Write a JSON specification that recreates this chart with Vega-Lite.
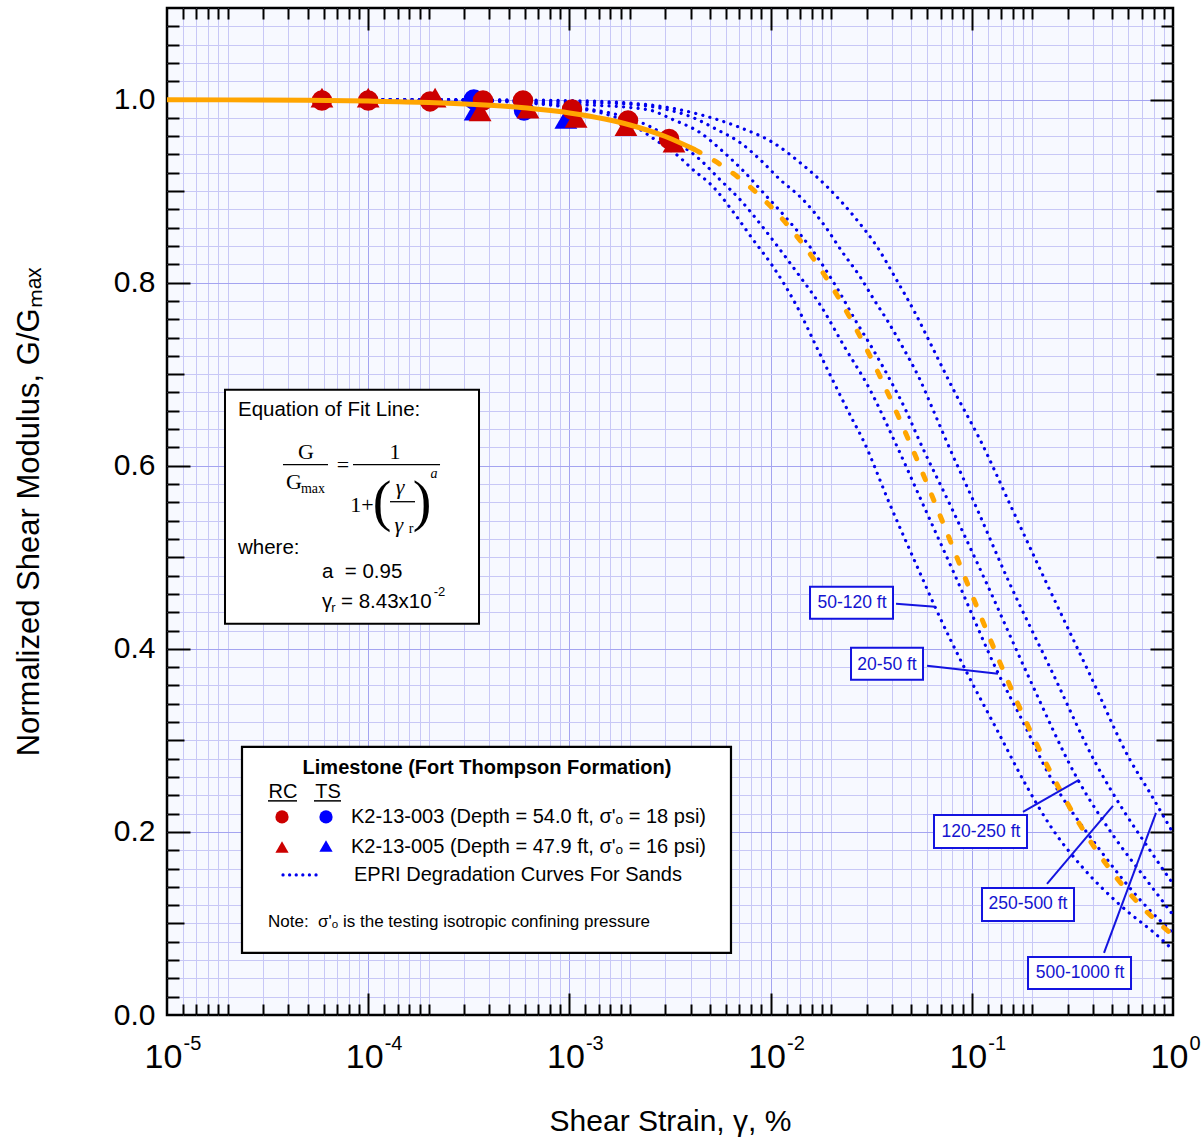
{
  "$schema": "https://vega.github.io/schema/vega-lite/v6.json",
  "width": 1006,
  "height": 1007,
  "autosize": {"type": "none"},
  "padding": {"left": 167, "top": 8, "right": 28, "bottom": 126},
  "background": "white",
  "config": {
    "view": {"stroke": "#000000", "strokeWidth": 2.5, "fill": "#f7f9ff"},
    "axis": {
      "labelFont": "Liberation Sans", "titleFont": "Liberation Sans",
      "labelColor": "#000000", "titleColor": "#000000", "titleFontWeight": "normal",
      "domain": false, "tickColor": "#000000", "tickWidth": 2, "gridWidth": 1,
      "labelFlush": false, "labelOverlap": false
    }
  },
  "datasets": {
    "ax": [{"x": 0.001, "y": 0.5}],
    "epri": [
      {"depth": "50-120 ft", "x": 1e-4, "y": 1.0},
      {"depth": "50-120 ft", "x": 3.21e-4, "y": 0.9989},
      {"depth": "50-120 ft", "x": 1e-3, "y": 0.9913},
      {"depth": "50-120 ft", "x": 1.42e-3, "y": 0.9858},
      {"depth": "50-120 ft", "x": 2.0e-3, "y": 0.9738},
      {"depth": "50-120 ft", "x": 2.66e-3, "y": 0.9563},
      {"depth": "50-120 ft", "x": 3.545e-3, "y": 0.9366},
      {"depth": "50-120 ft", "x": 4.11e-3, "y": 0.9235},
      {"depth": "50-120 ft", "x": 5.17e-3, "y": 0.9049},
      {"depth": "50-120 ft", "x": 6.5e-3, "y": 0.8776},
      {"depth": "50-120 ft", "x": 8.18e-3, "y": 0.847},
      {"depth": "50-120 ft", "x": 1.028e-2, "y": 0.8175},
      {"depth": "50-120 ft", "x": 1.353e-2, "y": 0.7738},
      {"depth": "50-120 ft", "x": 1.68e-2, "y": 0.7311},
      {"depth": "50-120 ft", "x": 2.042e-2, "y": 0.6929},
      {"depth": "50-120 ft", "x": 2.539e-2, "y": 0.6514},
      {"depth": "50-120 ft", "x": 2.846e-2, "y": 0.6306},
      {"depth": "50-120 ft", "x": 3.922e-2, "y": 0.5574},
      {"depth": "50-120 ft", "x": 5.722e-2, "y": 0.4754},
      {"depth": "50-120 ft", "x": 6.563e-2, "y": 0.4459},
      {"depth": "50-120 ft", "x": 9.46e-2, "y": 0.3738},
      {"depth": "50-120 ft", "x": 0.1334, "y": 0.3115},
      {"depth": "50-120 ft", "x": 0.1881, "y": 0.2492},
      {"depth": "50-120 ft", "x": 0.2533, "y": 0.2022},
      {"depth": "50-120 ft", "x": 0.357, "y": 0.1607},
      {"depth": "50-120 ft", "x": 0.5452, "y": 0.1202},
      {"depth": "50-120 ft", "x": 0.8619, "y": 0.0842},
      {"depth": "50-120 ft", "x": 1.0, "y": 0.071},
      {"depth": "20-50 ft", "x": 1e-4, "y": 1.0},
      {"depth": "20-50 ft", "x": 3.21e-4, "y": 0.9993},
      {"depth": "20-50 ft", "x": 1e-3, "y": 0.9923},
      {"depth": "20-50 ft", "x": 2.515e-3, "y": 0.9705},
      {"depth": "20-50 ft", "x": 3.545e-3, "y": 0.9508},
      {"depth": "20-50 ft", "x": 4.457e-3, "y": 0.9344},
      {"depth": "20-50 ft", "x": 5.6e-3, "y": 0.9126},
      {"depth": "20-50 ft", "x": 7.05e-3, "y": 0.8907},
      {"depth": "20-50 ft", "x": 8.86e-3, "y": 0.8645},
      {"depth": "20-50 ft", "x": 1.114e-2, "y": 0.8361},
      {"depth": "20-50 ft", "x": 1.4e-2, "y": 0.8066},
      {"depth": "20-50 ft", "x": 1.76e-2, "y": 0.776},
      {"depth": "20-50 ft", "x": 2.343e-2, "y": 0.729},
      {"depth": "20-50 ft", "x": 3.119e-2, "y": 0.6831},
      {"depth": "20-50 ft", "x": 4.058e-2, "y": 0.6306},
      {"depth": "20-50 ft", "x": 5.853e-2, "y": 0.553},
      {"depth": "20-50 ft", "x": 8.44e-2, "y": 0.4754},
      {"depth": "20-50 ft", "x": 0.1349, "y": 0.3738},
      {"depth": "20-50 ft", "x": 0.1797, "y": 0.3202},
      {"depth": "20-50 ft", "x": 0.2392, "y": 0.2645},
      {"depth": "20-50 ft", "x": 0.4337, "y": 0.1803},
      {"depth": "20-50 ft", "x": 0.7094, "y": 0.1224},
      {"depth": "20-50 ft", "x": 1.0, "y": 0.0896},
      {"depth": "120-250 ft", "x": 1e-4, "y": 1.0},
      {"depth": "120-250 ft", "x": 3.21e-4, "y": 0.9995},
      {"depth": "120-250 ft", "x": 1e-3, "y": 0.9951},
      {"depth": "120-250 ft", "x": 2.43e-3, "y": 0.9891},
      {"depth": "120-250 ft", "x": 3.27e-3, "y": 0.9781},
      {"depth": "120-250 ft", "x": 4.457e-3, "y": 0.9639},
      {"depth": "120-250 ft", "x": 5.8e-3, "y": 0.9432},
      {"depth": "120-250 ft", "x": 7.46e-3, "y": 0.9202},
      {"depth": "120-250 ft", "x": 9.38e-3, "y": 0.8962},
      {"depth": "120-250 ft", "x": 1.193e-2, "y": 0.871},
      {"depth": "120-250 ft", "x": 1.606e-2, "y": 0.8361},
      {"depth": "120-250 ft", "x": 2.163e-2, "y": 0.7923},
      {"depth": "120-250 ft", "x": 2.627e-2, "y": 0.7596},
      {"depth": "120-250 ft", "x": 3.19e-2, "y": 0.729},
      {"depth": "120-250 ft", "x": 3.922e-2, "y": 0.694},
      {"depth": "120-250 ft", "x": 4.763e-2, "y": 0.6579},
      {"depth": "120-250 ft", "x": 5.403e-2, "y": 0.6306},
      {"depth": "120-250 ft", "x": 7.97e-2, "y": 0.553},
      {"depth": "120-250 ft", "x": 0.1163, "y": 0.4754},
      {"depth": "120-250 ft", "x": 0.1947, "y": 0.3661},
      {"depth": "120-250 ft", "x": 0.3372, "y": 0.2568},
      {"depth": "120-250 ft", "x": 0.5148, "y": 0.1934},
      {"depth": "120-250 ft", "x": 0.7259, "y": 0.1497},
      {"depth": "120-250 ft", "x": 1.0, "y": 0.1093},
      {"depth": "250-500 ft", "x": 1e-4, "y": 1.0},
      {"depth": "250-500 ft", "x": 3.21e-4, "y": 0.9997},
      {"depth": "250-500 ft", "x": 1e-3, "y": 0.9973},
      {"depth": "250-500 ft", "x": 2.07e-3, "y": 0.9945},
      {"depth": "250-500 ft", "x": 3.056e-3, "y": 0.9891},
      {"depth": "250-500 ft", "x": 4.11e-3, "y": 0.9803},
      {"depth": "250-500 ft", "x": 5.41e-3, "y": 0.9672},
      {"depth": "250-500 ft", "x": 7.05e-3, "y": 0.953},
      {"depth": "250-500 ft", "x": 8.86e-3, "y": 0.9344},
      {"depth": "250-500 ft", "x": 1.114e-2, "y": 0.9126},
      {"depth": "250-500 ft", "x": 1.449e-2, "y": 0.8907},
      {"depth": "250-500 ft", "x": 1.885e-2, "y": 0.8601},
      {"depth": "250-500 ft", "x": 2.264e-2, "y": 0.8339},
      {"depth": "250-500 ft", "x": 2.781e-2, "y": 0.8066},
      {"depth": "250-500 ft", "x": 3.265e-2, "y": 0.7814},
      {"depth": "250-500 ft", "x": 3.834e-2, "y": 0.7574},
      {"depth": "250-500 ft", "x": 4.55e-2, "y": 0.729},
      {"depth": "250-500 ft", "x": 5.528e-2, "y": 0.694},
      {"depth": "250-500 ft", "x": 6.415e-2, "y": 0.6612},
      {"depth": "250-500 ft", "x": 7.36e-2, "y": 0.6306},
      {"depth": "250-500 ft", "x": 0.1061, "y": 0.553},
      {"depth": "250-500 ft", "x": 0.1513, "y": 0.4754},
      {"depth": "250-500 ft", "x": 0.2533, "y": 0.3727},
      {"depth": "250-500 ft", "x": 0.4096, "y": 0.2765},
      {"depth": "250-500 ft", "x": 0.5774, "y": 0.2208},
      {"depth": "250-500 ft", "x": 0.7428, "y": 0.1847},
      {"depth": "250-500 ft", "x": 1.0, "y": 0.1432},
      {"depth": "500-1000 ft", "x": 1e-4, "y": 1.0},
      {"depth": "500-1000 ft", "x": 3.21e-4, "y": 0.9998},
      {"depth": "500-1000 ft", "x": 1e-3, "y": 0.9989},
      {"depth": "500-1000 ft", "x": 2.43e-3, "y": 0.9945},
      {"depth": "500-1000 ft", "x": 4.457e-3, "y": 0.9836},
      {"depth": "500-1000 ft", "x": 7.05e-3, "y": 0.9694},
      {"depth": "500-1000 ft", "x": 1.028e-2, "y": 0.953},
      {"depth": "500-1000 ft", "x": 1.4e-2, "y": 0.9311},
      {"depth": "500-1000 ft", "x": 1.929e-2, "y": 0.9038},
      {"depth": "500-1000 ft", "x": 2.627e-2, "y": 0.871},
      {"depth": "500-1000 ft", "x": 3.379e-2, "y": 0.8393},
      {"depth": "500-1000 ft", "x": 4.248e-2, "y": 0.8022},
      {"depth": "500-1000 ft", "x": 5.221e-2, "y": 0.7672},
      {"depth": "500-1000 ft", "x": 6.34e-2, "y": 0.7301},
      {"depth": "500-1000 ft", "x": 8.25e-2, "y": 0.6798},
      {"depth": "500-1000 ft", "x": 0.1099, "y": 0.6284},
      {"depth": "500-1000 ft", "x": 0.1585, "y": 0.553},
      {"depth": "500-1000 ft", "x": 0.2311, "y": 0.4754},
      {"depth": "500-1000 ft", "x": 0.3869, "y": 0.3716},
      {"depth": "500-1000 ft", "x": 0.6115, "y": 0.2787},
      {"depth": "500-1000 ft", "x": 0.7686, "y": 0.2426},
      {"depth": "500-1000 ft", "x": 1.0, "y": 0.1989}
    ],
    "fitSolid": [
      {"x": 1e-5, "y": 0.9998}, {"x": 2e-5, "y": 0.99964}, {"x": 5e-5, "y": 0.99914},
      {"x": 1e-4, "y": 0.9983}, {"x": 2e-4, "y": 0.9968}, {"x": 5e-4, "y": 0.9924},
      {"x": 1e-3, "y": 0.9854}, {"x": 1.5e-3, "y": 0.9787}, {"x": 2e-3, "y": 0.9722},
      {"x": 3e-3, "y": 0.9596}, {"x": 4.2e-3, "y": 0.9453}
    ],
    "fitDash": [
      {"x": 4.2e-3, "y": 0.9453}, {"x": 6e-3, "y": 0.9249}, {"x": 8e-3, "y": 0.9035},
      {"x": 1e-2, "y": 0.8834}, {"x": 1.5e-2, "y": 0.8375}, {"x": 2e-2, "y": 0.7969},
      {"x": 3e-2, "y": 0.7274}, {"x": 4e-2, "y": 0.67}, {"x": 5e-2, "y": 0.6216},
      {"x": 7e-2, "y": 0.544}, {"x": 0.1, "y": 0.4595}, {"x": 0.15, "y": 0.3664},
      {"x": 0.2, "y": 0.3056}, {"x": 0.3, "y": 0.2304}, {"x": 0.5, "y": 0.1556},
      {"x": 0.7, "y": 0.1181}, {"x": 1.0, "y": 0.0871}
    ],
    "pts": [
      {"test": "TS", "spec": "K2-13-005", "x": 3.4e-4, "y": 0.988},
      {"test": "TS", "spec": "K2-13-005", "x": 9.6e-4, "y": 0.979},
      {"test": "TS", "spec": "K2-13-003", "x": 3.35e-4, "y": 1.0},
      {"test": "TS", "spec": "K2-13-003", "x": 5.95e-4, "y": 0.988},
      {"test": "RC", "spec": "K2-13-005", "x": 5.89e-5, "y": 1.002},
      {"test": "RC", "spec": "K2-13-005", "x": 1.0e-4, "y": 1.002},
      {"test": "RC", "spec": "K2-13-005", "x": 2.15e-4, "y": 1.002},
      {"test": "RC", "spec": "K2-13-005", "x": 3.6e-4, "y": 0.987},
      {"test": "RC", "spec": "K2-13-005", "x": 6.23e-4, "y": 0.99},
      {"test": "RC", "spec": "K2-13-005", "x": 1.08e-3, "y": 0.98},
      {"test": "RC", "spec": "K2-13-005", "x": 1.91e-3, "y": 0.971},
      {"test": "RC", "spec": "K2-13-005", "x": 3.31e-3, "y": 0.953},
      {"test": "RC", "spec": "K2-13-003", "x": 5.89e-5, "y": 0.999},
      {"test": "RC", "spec": "K2-13-003", "x": 1.0e-4, "y": 0.999},
      {"test": "RC", "spec": "K2-13-003", "x": 2.03e-4, "y": 0.998},
      {"test": "RC", "spec": "K2-13-003", "x": 3.72e-4, "y": 0.999},
      {"test": "RC", "spec": "K2-13-003", "x": 5.88e-4, "y": 0.999},
      {"test": "RC", "spec": "K2-13-003", "x": 1.03e-3, "y": 0.989},
      {"test": "RC", "spec": "K2-13-003", "x": 1.956e-3, "y": 0.977},
      {"test": "RC", "spec": "K2-13-003", "x": 3.13e-3, "y": 0.957}
    ],
    "eqBox": [{"x": 1.942e-5, "x2": 3.554e-4, "y": 0.4273, "y2": 0.6831}],
    "eqSans": [
      {"t": "Equation of Fit Line:", "x": 2.253e-5, "y": 0.6612},
      {"t": "where:", "x": 2.253e-5, "y": 0.5104},
      {"t": "a\u00a0\u00a0= 0.95", "x": 5.894e-5, "y": 0.4842},
      {"t": "γ", "x": 5.894e-5, "y": 0.4514},
      {"t": "= 8.43x10", "x": 7.326e-5, "y": 0.4514}
    ],
    "eqSmall": [
      {"t": "r", "x": 6.723e-5, "y": 0.4451},
      {"t": "-2", "x": 2.26e-4, "y": 0.4626}
    ],
    "eqSerif": [
      {"t": "G", "x": 4.91e-5, "y": 0.6153},
      {"t": "G", "x": 4.278e-5, "y": 0.5825},
      {"t": "=", "x": 7.497e-5, "y": 0.6011},
      {"t": "1", "x": 1.359e-4, "y": 0.6153},
      {"t": "1+", "x": 9.316e-5, "y": 0.5574}
    ],
    "eqSerifSmall": [
      {"t": "max", "x": 5.315e-5, "y": 0.5749},
      {"t": "r", "x": 1.632e-4, "y": 0.5311}
    ],
    "eqItalic": [
      {"t": "γ", "x": 1.439e-4, "y": 0.577},
      {"t": "γ", "x": 1.42e-4, "y": 0.5355}
    ],
    "eqItalicSmall": [{"t": "a", "x": 2.123e-4, "y": 0.5913}],
    "eqParen": [
      {"t": "(", "x": 1.171e-4, "y": 0.5596},
      {"t": ")", "x": 1.851e-4, "y": 0.5596}
    ],
    "fracRules": [
      {"x": 3.771e-5, "x2": 6.313e-5, "y": 0.6011},
      {"x": 8.404e-5, "x2": 2.275e-4, "y": 0.6011},
      {"x": 1.283e-4, "x2": 1.709e-4, "y": 0.5607}
    ],
    "legBox": [{"x": 2.359e-5, "x2": 6.355e-3, "y": 0.0678, "y2": 0.2929}],
    "legTitle": [{"t": "Limestone (Fort Thompson Formation)", "x": 3.896e-4, "y": 0.2699}],
    "legHead": [
      {"t": "RC", "x": 3.771e-5, "y": 0.2437},
      {"t": "TS", "x": 6.313e-5, "y": 0.2437}
    ],
    "legUnder": [
      {"x": 3.177e-5, "x2": 4.427e-5, "y": 0.2339},
      {"x": 5.377e-5, "x2": 7.326e-5, "y": 0.2339}
    ],
    "legPts": [
      {"test": "RC", "spec": "K2-13-003", "x": 3.729e-5, "y": 0.2164},
      {"test": "TS", "spec": "K2-13-003", "x": 6.17e-5, "y": 0.2164},
      {"test": "RC", "spec": "K2-13-005", "x": 3.729e-5, "y": 0.1836},
      {"test": "TS", "spec": "K2-13-005", "x": 6.17e-5, "y": 0.1847}
    ],
    "legText": [
      {"t": "K2-13-003 (Depth = 54.0 ft, σ'ₒ = 18 psi)", "x": 8.21e-5, "y": 0.2164},
      {"t": "K2-13-005 (Depth = 47.9 ft, σ'ₒ = 16 psi)", "x": 8.21e-5, "y": 0.1836},
      {"t": "EPRI Degradation Curves For Sands", "x": 8.5e-5, "y": 0.153}
    ],
    "legNote": [{"t": "Note:\u00a0 σ'ₒ is the testing isotropic confining pressure", "x": 3.177e-5, "y": 0.1016}],
    "legDot": [{"x": 3.771e-5, "x2": 5.76e-5, "y": 0.153}],
    "lblLine": [
      {"x": 4.201e-2, "y": 0.4492, "x2": 6.563e-2, "y2": 0.4459},
      {"x": 5.99e-2, "y": 0.3814, "x2": 0.1349, "y2": 0.3727},
      {"x": 0.1797, "y": 0.2219, "x2": 0.3411, "y2": 0.2568},
      {"x": 0.2365, "y": 0.1432, "x2": 0.5032, "y2": 0.2284},
      {"x": 0.4541, "y": 0.0678, "x2": 0.8232, "y2": 0.2208}
    ],
    "lblBox": [
      {"x": 1.57e-2, "x2": 4.058e-2, "y": 0.4328, "y2": 0.4678},
      {"x": 2.51e-2, "x2": 5.722e-2, "y": 0.3661, "y2": 0.4011},
      {"x": 6.488e-2, "x2": 0.1881, "y": 0.1825, "y2": 0.2186},
      {"x": 0.1124, "x2": 0.3221, "y": 0.1027, "y2": 0.1388},
      {"x": 0.1903, "x2": 0.6185, "y": 0.0284, "y2": 0.0634}
    ],
    "lblText": [
      {"t": "50-120 ft", "x": 2.539e-2, "y": 0.4503},
      {"t": "20-50 ft", "x": 3.79e-2, "y": 0.3825},
      {"t": "120-250 ft", "x": 0.1111, "y": 0.2},
      {"t": "250-500 ft", "x": 0.1903, "y": 0.1213},
      {"t": "500-1000 ft", "x": 0.345, "y": 0.0459}
    ]
  },
  "encoding": {
    "x": {"field": "x", "type": "quantitative", "scale": {"type": "log", "domain": [0.00001, 1], "nice": false}, "axis": null},
    "y": {"field": "y", "type": "quantitative", "scale": {"domain": [0, 1.1], "nice": false, "zero": false}, "axis": null}
  },
  "resolve": {"axis": {"x": "independent", "y": "independent"}},
  "layer": [
    {
      "data": {"name": "ax"},
      "mark": {"type": "point", "opacity": 0},
      "encoding": {
        "x": {"field": "x", "type": "quantitative", "scale": {"type": "log", "domain": [0.00001, 1], "nice": false},
          "axis": {"orient": "bottom", "values": [0.00001, 0.0001, 0.001, 0.01, 0.1, 1], "ticks": false, "grid": false,
            "labelExpr": "'10'",
            "labelFontSize": 34, "labelPadding": 25, "labelAlign": "center", "labelOffset": -4, "labelBaseline": "top",
            "title": "Shear Strain, γ, %", "titleFontSize": 30, "titlePadding": 32}},
        "y": {"field": "y", "type": "quantitative", "scale": {"domain": [0, 1.1], "nice": false, "zero": false},
          "axis": {"orient": "left", "values": [0, 0.2, 0.4, 0.6, 0.8, 1.0], "format": ".1f", "ticks": false, "grid": false,
            "labelFontSize": 30, "labelPadding": 12,
            "title": "Normalized Shear Modulus, G/Gₘₐₓ", "titleFontSize": 31, "titlePadding": 68}}
      }
    },
    {
      "data": {"name": "ax"},
      "mark": {"type": "point", "opacity": 0},
      "encoding": {
        "x": {"field": "x", "type": "quantitative", "scale": {"type": "log", "domain": [0.00001, 1], "nice": false},
          "axis": {"orient": "bottom", "values": [1.2e-5, 1.4e-5, 1.6e-5, 1.8e-5, 2e-5, 3e-5, 4e-5, 5e-5, 6e-5, 7e-5, 8e-5, 9e-5, 1.2e-4, 1.4e-4, 1.6e-4, 1.8e-4, 2e-4, 3e-4, 4e-4, 5e-4, 6e-4, 7e-4, 8e-4, 9e-4, 1.2e-3, 1.4e-3, 1.6e-3, 1.8e-3, 2e-3, 3e-3, 4e-3, 5e-3, 6e-3, 7e-3, 8e-3, 9e-3, 1.2e-2, 1.4e-2, 1.6e-2, 1.8e-2, 2e-2, 3e-2, 4e-2, 5e-2, 6e-2, 7e-2, 8e-2, 9e-2, 0.12, 0.14, 0.16, 0.18, 0.2, 0.3, 0.4, 0.5, 0.6, 0.7, 0.8, 0.9],
            "tickSize": -11, "grid": true, "gridColor": "#c8c8f6", "labels": false, "title": null}},
        "y": {"field": "y", "type": "quantitative", "scale": {"domain": [0, 1.1], "nice": false, "zero": false},
          "axis": {"orient": "left", "values": [0.02, 0.04, 0.06, 0.08, 0.12, 0.14, 0.16, 0.18, 0.22, 0.24, 0.26, 0.28, 0.32, 0.34, 0.36, 0.38, 0.42, 0.44, 0.46, 0.48, 0.52, 0.54, 0.56, 0.58, 0.62, 0.64, 0.66, 0.68, 0.72, 0.74, 0.76, 0.78, 0.82, 0.84, 0.86, 0.88, 0.92, 0.94, 0.96, 0.98, 1.02, 1.04, 1.06, 1.08],
            "tickSize": -12, "grid": true, "gridColor": "#c8c8f6", "labels": false, "title": null}}
      }
    },
    {
      "data": {"name": "ax"},
      "mark": {"type": "point", "opacity": 0},
      "encoding": {
        "x": {"field": "x", "type": "quantitative", "scale": {"type": "log", "domain": [0.00001, 1], "nice": false},
          "axis": {"orient": "bottom", "values": [0.0001, 0.001, 0.01, 0.1], "tickSize": -22, "grid": true, "gridColor": "#a4a4f0", "labels": false, "title": null}},
        "y": {"field": "y", "type": "quantitative", "scale": {"domain": [0, 1.1], "nice": false, "zero": false},
          "axis": {"orient": "left", "values": [0.1, 0.3, 0.5, 0.7, 0.9], "tickSize": -17, "grid": true, "gridColor": "#c8c8f6", "labels": false, "title": null}}
      }
    },
    {
      "data": {"name": "ax"},
      "mark": {"type": "point", "opacity": 0},
      "encoding": {
        "x": {"field": "x", "type": "quantitative", "scale": {"type": "log", "domain": [0.00001, 1], "nice": false},
          "axis": {"orient": "top", "values": [1.2e-5, 1.4e-5, 1.6e-5, 1.8e-5, 2e-5, 3e-5, 4e-5, 5e-5, 6e-5, 7e-5, 8e-5, 9e-5, 1.2e-4, 1.4e-4, 1.6e-4, 1.8e-4, 2e-4, 3e-4, 4e-4, 5e-4, 6e-4, 7e-4, 8e-4, 9e-4, 1.2e-3, 1.4e-3, 1.6e-3, 1.8e-3, 2e-3, 3e-3, 4e-3, 5e-3, 6e-3, 7e-3, 8e-3, 9e-3, 1.2e-2, 1.4e-2, 1.6e-2, 1.8e-2, 2e-2, 3e-2, 4e-2, 5e-2, 6e-2, 7e-2, 8e-2, 9e-2, 0.12, 0.14, 0.16, 0.18, 0.2, 0.3, 0.4, 0.5, 0.6, 0.7, 0.8, 0.9],
            "tickSize": -11, "grid": false, "labels": false, "title": null}},
        "y": {"field": "y", "type": "quantitative", "scale": {"domain": [0, 1.1], "nice": false, "zero": false},
          "axis": {"orient": "left", "values": [0.2, 0.4, 0.6, 0.8, 1.0], "tickSize": -23, "grid": true, "gridColor": "#a4a4f0", "labels": false, "title": null}}
      }
    },
    {
      "data": {"name": "ax"},
      "mark": {"type": "point", "opacity": 0},
      "encoding": {
        "x": {"field": "x", "type": "quantitative", "scale": {"type": "log", "domain": [0.00001, 1], "nice": false},
          "axis": {"orient": "top", "values": [0.0001, 0.001, 0.01, 0.1], "tickSize": -22, "grid": false, "labels": false, "title": null}},
        "y": {"field": "y", "type": "quantitative", "scale": {"domain": [0, 1.1], "nice": false, "zero": false},
          "axis": {"orient": "right", "values": [0.02, 0.04, 0.06, 0.08, 0.12, 0.14, 0.16, 0.18, 0.22, 0.24, 0.26, 0.28, 0.32, 0.34, 0.36, 0.38, 0.42, 0.44, 0.46, 0.48, 0.52, 0.54, 0.56, 0.58, 0.62, 0.64, 0.66, 0.68, 0.72, 0.74, 0.76, 0.78, 0.82, 0.84, 0.86, 0.88, 0.92, 0.94, 0.96, 0.98, 1.02, 1.04, 1.06, 1.08],
            "tickSize": -12, "grid": false, "labels": false, "title": null}}
      }
    },
    {
      "data": {"name": "ax"},
      "mark": {"type": "point", "opacity": 0},
      "encoding": {
        "x": {"field": "x", "type": "quantitative", "scale": {"type": "log", "domain": [0.00001, 1], "nice": false},
          "axis": {"orient": "bottom", "values": [0.00001, 0.0001, 0.001, 0.01, 0.1, 1], "ticks": false, "grid": false,
            "labelExpr": "datum.value < 2e-5 ? '-5' : datum.value < 2e-4 ? '-4' : datum.value < 2e-3 ? '-3' : datum.value < 2e-2 ? '-2' : datum.value < 0.2 ? '-1' : '0'",
            "labelFontSize": 20, "labelPadding": 18, "labelAlign": "left", "labelOffset": 16, "labelBaseline": "top", "title": null}},
        "y": {"field": "y", "type": "quantitative", "scale": {"domain": [0, 1.1], "nice": false, "zero": false},
          "axis": {"orient": "right", "values": [0.1, 0.3, 0.5, 0.7, 0.9], "tickSize": -17, "grid": false, "labels": false, "title": null}}
      }
    },
    {
      "data": {"name": "ax"},
      "mark": {"type": "point", "opacity": 0},
      "encoding": {
        "y": {"field": "y", "type": "quantitative", "scale": {"domain": [0, 1.1], "nice": false, "zero": false},
          "axis": {"orient": "right", "values": [0.2, 0.4, 0.6, 0.8, 1.0], "tickSize": -23, "grid": false, "labels": false, "title": null}}
      }
    },
    {
      "data": {"name": "epri"},
      "mark": {"type": "line", "color": "#0000ee", "strokeWidth": 3.2, "strokeDash": [0.1, 7.2], "strokeCap": "round", "interpolate": "monotone"},
      "encoding": {"detail": {"field": "depth"}}
    },
    {
      "data": {"name": "pts"},
      "mark": {"type": "point", "filled": true, "opacity": 1, "strokeWidth": 0},
      "encoding": {
        "color": {"field": "test", "type": "nominal", "scale": {"domain": ["RC", "TS"], "range": ["#cc0000", "#0000ff"]}, "legend": null},
        "shape": {"field": "spec", "type": "nominal", "scale": {"domain": ["K2-13-003", "K2-13-005"], "range": ["circle", "triangle-up"]}, "legend": null},
        "size": {"field": "spec", "type": "nominal", "scale": {"domain": ["K2-13-003", "K2-13-005"], "range": [420, 520]}, "legend": null}
      }
    },
    {
      "data": {"name": "fitSolid"},
      "mark": {"type": "line", "color": "#ffa500", "strokeWidth": 5, "interpolate": "monotone"},
      "encoding": {}
    },
    {
      "data": {"name": "fitDash"},
      "mark": {"type": "line", "color": "#ffa500", "strokeWidth": 5, "strokeDash": [6, 16.5], "strokeCap": "round", "interpolate": "monotone"},
      "encoding": {}
    },
    {
      "data": {"name": "eqBox"},
      "mark": {"type": "rect", "fill": "#ffffff", "stroke": "#000000", "strokeWidth": 2},
      "encoding": {"x2": {"field": "x2"}, "y2": {"field": "y2"}}
    },
    {
      "data": {"name": "eqSans"},
      "mark": {"type": "text", "align": "left", "baseline": "middle", "font": "Liberation Sans", "fontSize": 20.5, "color": "#000000"},
      "encoding": {"text": {"field": "t"}}
    },
    {
      "data": {"name": "eqSmall"},
      "mark": {"type": "text", "align": "center", "baseline": "middle", "font": "Liberation Sans", "fontSize": 13, "color": "#000000"},
      "encoding": {"text": {"field": "t"}}
    },
    {
      "data": {"name": "eqSerif"},
      "mark": {"type": "text", "align": "center", "baseline": "middle", "font": "Liberation Serif", "fontSize": 22, "color": "#000000"},
      "encoding": {"text": {"field": "t"}}
    },
    {
      "data": {"name": "eqSerifSmall"},
      "mark": {"type": "text", "align": "center", "baseline": "middle", "font": "Liberation Serif", "fontSize": 14, "color": "#000000"},
      "encoding": {"text": {"field": "t"}}
    },
    {
      "data": {"name": "eqItalic"},
      "mark": {"type": "text", "align": "center", "baseline": "middle", "font": "Liberation Serif", "fontStyle": "italic", "fontSize": 22, "color": "#000000"},
      "encoding": {"text": {"field": "t"}}
    },
    {
      "data": {"name": "eqItalicSmall"},
      "mark": {"type": "text", "align": "center", "baseline": "middle", "font": "Liberation Serif", "fontStyle": "italic", "fontSize": 14, "color": "#000000"},
      "encoding": {"text": {"field": "t"}}
    },
    {
      "data": {"name": "eqParen"},
      "mark": {"type": "text", "align": "center", "baseline": "middle", "font": "Liberation Serif", "fontSize": 56, "color": "#000000"},
      "encoding": {"text": {"field": "t"}}
    },
    {
      "data": {"name": "fracRules"},
      "mark": {"type": "rule", "color": "#000000", "strokeWidth": 1.3},
      "encoding": {"x2": {"field": "x2"}}
    },
    {
      "data": {"name": "legBox"},
      "mark": {"type": "rect", "fill": "#ffffff", "stroke": "#000000", "strokeWidth": 2.2},
      "encoding": {"x2": {"field": "x2"}, "y2": {"field": "y2"}}
    },
    {
      "data": {"name": "legTitle"},
      "mark": {"type": "text", "align": "center", "baseline": "middle", "font": "Liberation Sans", "fontWeight": "bold", "fontSize": 20, "color": "#000000"},
      "encoding": {"text": {"field": "t"}}
    },
    {
      "data": {"name": "legHead"},
      "mark": {"type": "text", "align": "center", "baseline": "middle", "font": "Liberation Sans", "fontSize": 20, "color": "#000000"},
      "encoding": {"text": {"field": "t"}}
    },
    {
      "data": {"name": "legUnder"},
      "mark": {"type": "rule", "color": "#000000", "strokeWidth": 1.5},
      "encoding": {"x2": {"field": "x2"}}
    },
    {
      "data": {"name": "legPts"},
      "mark": {"type": "point", "filled": true, "opacity": 1, "strokeWidth": 0, "size": 175},
      "encoding": {
        "color": {"field": "test", "type": "nominal", "scale": {"domain": ["RC", "TS"], "range": ["#cc0000", "#0000ff"]}, "legend": null},
        "shape": {"field": "spec", "type": "nominal", "scale": {"domain": ["K2-13-003", "K2-13-005"], "range": ["circle", "triangle-up"]}, "legend": null}
      }
    },
    {
      "data": {"name": "legText"},
      "mark": {"type": "text", "align": "left", "baseline": "middle", "font": "Liberation Sans", "fontSize": 20, "color": "#000000"},
      "encoding": {"text": {"field": "t"}}
    },
    {
      "data": {"name": "legNote"},
      "mark": {"type": "text", "align": "left", "baseline": "middle", "font": "Liberation Sans", "fontSize": 17, "color": "#000000"},
      "encoding": {"text": {"field": "t"}}
    },
    {
      "data": {"name": "legDot"},
      "mark": {"type": "rule", "color": "#0000ee", "strokeWidth": 3.2, "strokeDash": [0.1, 6.5], "strokeCap": "round"},
      "encoding": {"x2": {"field": "x2"}}
    },
    {
      "data": {"name": "lblLine"},
      "mark": {"type": "rule", "color": "#1414e0", "strokeWidth": 2},
      "encoding": {"x2": {"field": "x2"}, "y2": {"field": "y2"}}
    },
    {
      "data": {"name": "lblBox"},
      "mark": {"type": "rect", "fill": "#ffffff", "stroke": "#1414e0", "strokeWidth": 2},
      "encoding": {"x2": {"field": "x2"}, "y2": {"field": "y2"}}
    },
    {
      "data": {"name": "lblText"},
      "mark": {"type": "text", "align": "center", "baseline": "middle", "font": "Liberation Sans", "fontSize": 17.5, "color": "#1414d0"},
      "encoding": {"text": {"field": "t"}}
    }
  ]
}
